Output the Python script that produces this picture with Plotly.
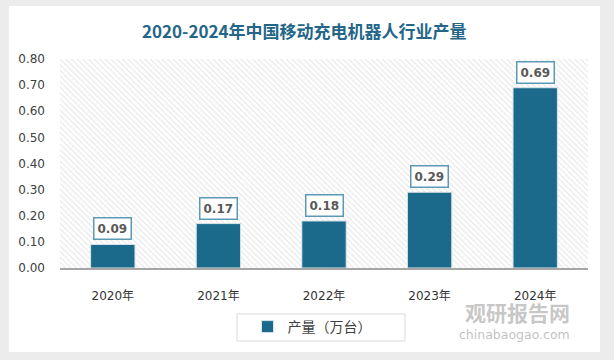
import plotly.graph_objects as go

categories = ["2020年", "2021年", "2022年", "2023年", "2024年"]
output_values = [0.09, 0.17, 0.18, 0.29, 0.69]
series_name = "产量（万台）"
title_text = "2020-2024年中国移动充电机器人行业产量"
y_ticks = [0.0, 0.1, 0.2, 0.3, 0.4, 0.5, 0.6, 0.7, 0.8]

BAR = "#1b6a8c"
W, H = 614, 360
L, R, T, B = 60, 26, 59, 92
pw, ph = W - L - R, H - T - B

def px(x):
    return (x - L) / pw

def py(y):
    return (H - B - y) / ph

fig = go.Figure()

# hatched plot background (decoration, on hidden base axes)
fig.add_trace(go.Scatter(
    x=[0, 1, 1, 0, 0], y=[0, 0, 1, 1, 0], mode="lines", fill="toself",
    line=dict(width=0), fillcolor="rgba(0,0,0,0)",
    fillpattern=dict(shape="\\", fgcolor="#d2d2d2", bgcolor="white", size=4, solidity=0.3),
    hoverinfo="skip", showlegend=False, xaxis="x", yaxis="y"))

fig.add_trace(go.Bar(
    x=categories, y=output_values, name=series_name,
    marker=dict(color=BAR, line=dict(color="#d8e4ea", width=1)),
    width=0.42, xaxis="x2", yaxis="y2", showlegend=True))

annotations = []
for c, v in zip(categories, output_values):
    annotations.append(dict(
        x=c, y=v, xref="x2", yref="y2", yanchor="bottom", yshift=4,
        text=f"<b>{v:.2f}</b>", showarrow=False,
        font=dict(family="DejaVu Sans, Noto Sans CJK SC", size=12, color="#595959"),
        bgcolor="white", bordercolor="#5a9ab5", borderwidth=1.5, borderpad=3))

annotations += [
    dict(x=0.5 * (px(9) + px(600)), y=py(30), xref="paper", yref="paper", text=f"<b>{title_text}</b>",
         xanchor="center", yanchor="middle",
         showarrow=False, font=dict(family="Noto Sans CJK SC", size=17, color="#236688")),
    dict(x=px(517), y=py(312), xref="paper", yref="paper", text="<b>观研报告网</b>", showarrow=False,
         xanchor="center", yanchor="middle",
         font=dict(family="Noto Sans CJK SC", size=21, color="rgba(150,150,150,0.55)")),
    dict(x=px(514), y=py(334), xref="paper", yref="paper", text="chinabaogao.com", showarrow=False,
         xanchor="center", yanchor="middle",
         font=dict(family="DejaVu Sans", size=12.5, color="rgba(150,150,150,0.6)")),
]

shapes = [
    dict(type="rect", xref="paper", yref="paper", x0=px(9), x1=px(600), y0=py(352), y1=py(6),
         fillcolor="white", line=dict(width=0), layer="below"),
    dict(type="rect", xref="paper", yref="paper", x0=px(237), x1=px(405), y0=py(341), y1=py(314),
         fillcolor="rgba(0,0,0,0)", line=dict(color="#d9d9d9", width=1), layer="above"),
]

fig.update_layout(
    width=W, height=H, margin=dict(l=L, r=R, t=T, b=B, autoexpand=False),
    paper_bgcolor="#ececec", plot_bgcolor="rgba(0,0,0,0)",
    xaxis=dict(range=[0, 1], visible=False, fixedrange=True),
    yaxis=dict(range=[0, 1], visible=False, fixedrange=True),
    xaxis2=dict(overlaying="x", anchor="y2", type="category", showgrid=False, showline=True,
                linecolor="#a6a6a6", linewidth=1.5, ticks="", ticklabelstandoff=16,
                tickfont=dict(family="DejaVu Sans, Noto Sans CJK SC", size=12, color="#333333")),
    yaxis2=dict(overlaying="y", anchor="x2", range=[0, 0.8], tickvals=y_ticks,
                ticktext=[f"{t:.2f}" for t in y_ticks], showgrid=False, zeroline=False,
                showline=False, ticks="", ticklabelstandoff=14,
                tickfont=dict(family="DejaVu Sans", size=12, color="#404040")),
    legend=dict(orientation="h", x=px(312), xanchor="center", y=py(327), yanchor="middle",
                bgcolor="rgba(0,0,0,0)", font=dict(family="Noto Sans CJK SC", size=14, color="#404040"),
                itemwidth=30),
    showlegend=True,
    annotations=annotations, shapes=shapes,
)

fig.write_html("out.html", config={"displayModeBar": False},
               post_script="document.body.style.margin='0';document.body.style.overflow='hidden';")
